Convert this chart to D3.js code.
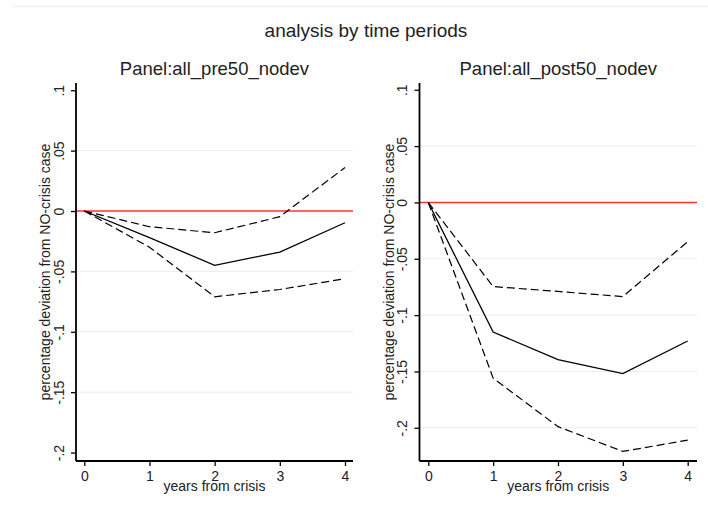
<!DOCTYPE html>
<html lang="en">
<head>
<meta charset="UTF-8">
<title>analysis by time periods</title>
<script src="https://d3js.org/d3.v7.min.js"></script>
<style>
    body { margin: 0; background: #fff; }
    svg { display: block; font-family: Arial, "Liberation Sans", sans-serif; }
    .grid { stroke: #ececec; stroke-width: 1; }
    .zero { stroke: #ff3333; stroke-width: 1.5; }
    .est { fill: none; stroke: #000; stroke-width: 1.3; }
    .ci { fill: none; stroke: #000; stroke-width: 1.2; stroke-dasharray: 8,4; }
</style>
</head>
<body>
<div id="container"></div>
<script>
const width = 708, height = 521;

// data
const years = [0, 1, 2, 3, 4];
const yTicks = [0.1, 0.05, 0, -0.05, -0.1, -0.15, -0.2];
const yTickLabels = [".1", ".05", "0", "-.05", "-.1", "-.15", "-.2"];

const preEstimate = [0, -0.022, -0.045, -0.034, -0.0097];
const preUpper    = [0, -0.013, -0.018, -0.0047, 0.036];
const preLower    = [0, -0.030, -0.071, -0.065, -0.056];

const postEstimate = [0, -0.115, -0.1396, -0.152, -0.123];
const postUpper    = [0, -0.0747, -0.079, -0.0836, -0.0348];
const postLower    = [0, -0.156, -0.199, -0.221, -0.211];

const panels = [
    { title: "Panel:all_pre50_nodev", est: preEstimate, up: preUpper, lo: preLower,
      left: 76, right: 353, top: 83, bottom: 461, yMin: -0.207, yMax: 0.106, x0: 84.3, x4: 345 },
    { title: "Panel:all_post50_nodev", est: postEstimate, up: postUpper, lo: postLower,
      left: 419.5, right: 697, top: 83, bottom: 461, yMin: -0.2295, yMax: 0.106, x0: 428.3, x4: 687.7 }
];

const svg = d3.select("#container")
    .append("svg")
    .attr("width", width)
    .attr("height", height);

// faint frame line at top
svg.append("line")
    .attr("x1", 12).attr("x2", width)
    .attr("y1", 6.5).attr("y2", 6.5)
    .attr("stroke", "#f4eeee").attr("stroke-width", 1.5);

svg.append("text")
    .attr("x", 366).attr("y", 37)
    .attr("text-anchor", "middle")
    .attr("font-size", 19)
    .attr("fill", "#222")
    .text("analysis by time periods");

panels.forEach(p => {
    const x = d3.scaleLinear().domain([0, 4]).range([p.x0, p.x4]);
    const y = d3.scaleLinear().domain([p.yMin, p.yMax]).range([p.bottom, p.top]);
    const g = svg.append("g");

    // gridlines (skip near plot edges and zero)
    yTicks.forEach(t => {
        const yy = y(t);
        if (t === 0 || yy - p.top < 12 || p.bottom - yy < 12) return;
        g.append("line").attr("class", "grid")
            .attr("x1", p.left).attr("x2", p.right)
            .attr("y1", yy).attr("y2", yy);
    });

    g.append("line").attr("class", "zero")
        .attr("x1", p.left).attr("x2", p.right)
        .attr("y1", y(0)).attr("y2", y(0));

    const line = d3.line().x((d, i) => x(years[i])).y(d => y(d));
    g.append("path").attr("class", "ci").attr("d", line(p.up));
    g.append("path").attr("class", "ci").attr("d", line(p.lo));
    g.append("path").attr("class", "est").attr("d", line(p.est));

    // y axis
    const yAxis = g.append("g")
        .attr("transform", `translate(${p.left},0)`)
        .call(d3.axisLeft(y).tickValues(yTicks).tickSize(5)
            .tickFormat((d, i) => yTickLabels[i]));
    yAxis.select(".domain").attr("d", `M0,${p.top}V${p.bottom}`)
        .attr("stroke-width", 1.8);
    yAxis.selectAll(".tick line").attr("stroke-width", 1.3);
    yAxis.selectAll(".tick text")
        .attr("x", 0).attr("dy", 0)
        .attr("transform", "translate(-12.5,0) rotate(-90)")
        .attr("text-anchor", "middle")
        .attr("font-size", 14)
        .attr("font-family", "Arial, 'Liberation Sans', sans-serif")
        .attr("fill", "#222");

    // x axis
    const xAxis = g.append("g")
        .attr("transform", `translate(0,${p.bottom})`)
        .call(d3.axisBottom(x).tickValues(years).tickSize(5).tickFormat(d3.format("d")));
    xAxis.select(".domain").attr("d", `M${p.left},0H${p.right}`)
        .attr("stroke-width", 1.8);
    xAxis.selectAll(".tick line").attr("stroke-width", 1.3);
    xAxis.selectAll(".tick text")
        .attr("y", 20).attr("dy", 0)
        .attr("font-size", 14)
        .attr("font-family", "Arial, 'Liberation Sans', sans-serif")
        .attr("fill", "#222");

    const cx = (p.left + p.right) / 2;
    g.append("text")
        .attr("x", cx).attr("y", 491)
        .attr("text-anchor", "middle")
        .attr("font-size", 14)
        .attr("fill", "#222")
        .text("years from crisis");

    g.append("text")
        .attr("transform", `translate(${p.left - 26},${(p.top + p.bottom) / 2}) rotate(-90)`)
        .attr("text-anchor", "middle")
        .attr("font-size", 14)
        .attr("fill", "#222")
        .text("percentage deviation from NO-crisis case");

    g.append("text")
        .attr("x", cx).attr("y", 75)
        .attr("text-anchor", "middle")
        .attr("font-size", 18.5)
        .attr("fill", "#222")
        .text(p.title);
});
</script>
</body>
</html>
